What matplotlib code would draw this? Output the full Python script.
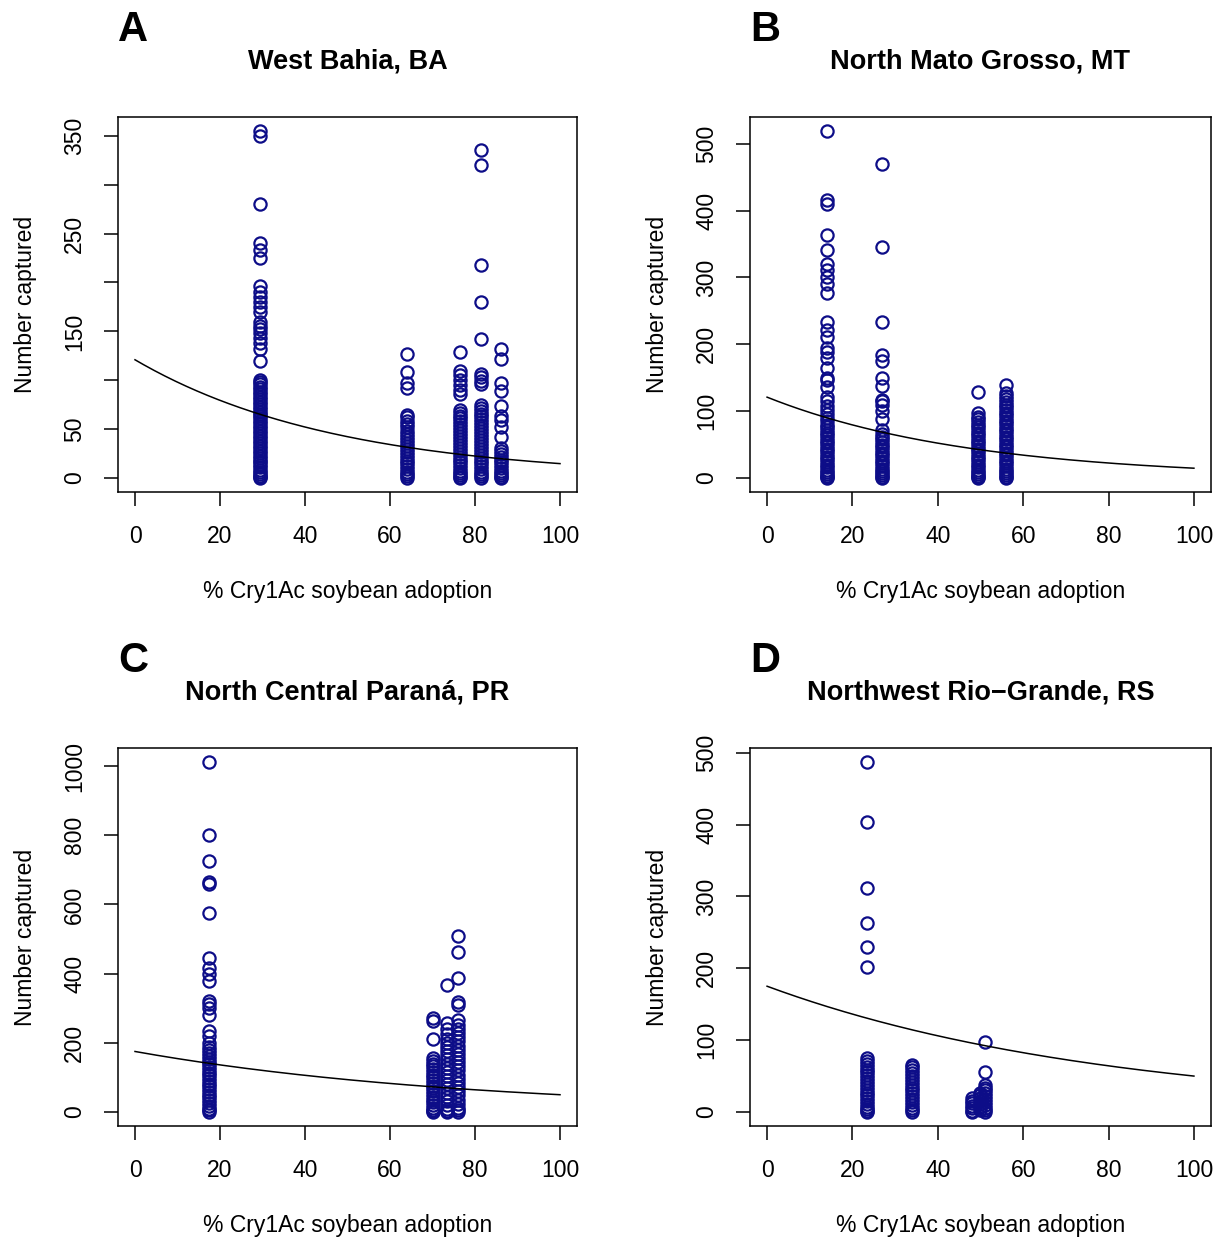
import numpy as np
import matplotlib
matplotlib.use('Agg')
import matplotlib.pyplot as plt

plt.rcParams['font.family'] = ['Liberation Sans', 'DejaVu Sans']

# Panel A - West Bahia
ba_adoption = [29.5, 64, 76.5, 81.5, 86]
ba_counts = [
    [355, 350, 280, 240, 233, 225, 196, 190, 185, 180, 175, 170, 160, 156, 152, 148, 143, 138, 132, 120,
     100, 98, 96, 93, 91, 88, 86, 83, 81, 78, 76, 73, 71, 68, 66, 63, 61, 58, 56, 53, 51, 48, 46, 43, 41,
     38, 36, 33, 31, 28, 26, 23, 21, 18, 16, 13, 11, 8, 6, 4, 2, 1, 0],
    [127, 108, 97, 92, 65, 62, 58, 55, 52, 48, 45, 42, 39, 36, 33, 30, 27, 24, 21, 18, 15, 12, 9, 6, 4, 2, 0],
    [129, 110, 105, 100, 95, 90, 86, 70, 67, 64, 61, 58, 55, 52, 49, 46, 43, 40, 37, 34, 31, 28, 25, 22,
     19, 16, 13, 10, 7, 5, 3, 1, 0],
    [335, 320, 218, 180, 142, 106, 103, 99, 96, 75, 72, 69, 66, 63, 60, 57, 54, 51, 48, 45, 42, 39, 36,
     33, 30, 27, 24, 21, 18, 15, 12, 9, 6, 4, 2, 0],
    [132, 122, 97, 89, 74, 64, 59, 52, 42, 31, 28, 25, 22, 19, 16, 13, 10, 7, 5, 3, 1, 0],
]
ba_curve = (121, 0.021)

# Panel B - North Mato Grosso
mt_adoption = [14, 27, 49.5, 56]
mt_counts = [
    [519, 415, 410, 364, 341, 320, 311, 300, 290, 276, 234, 222, 211, 195, 188, 180, 165, 150, 146, 136,
     121, 115, 108, 102, 96, 90, 85, 80, 76, 72, 68, 64, 60, 56, 52, 48, 44, 40, 36, 32, 28, 24, 20, 16,
     12, 9, 6, 3, 1, 0],
    [470, 346, 234, 184, 175, 150, 137, 117, 115, 110, 100, 88, 72, 66, 62, 58, 54, 50, 46, 42, 38, 34,
     30, 26, 22, 18, 14, 10, 7, 4, 2, 0],
    [128, 98, 92, 88, 84, 80, 76, 72, 68, 64, 60, 56, 52, 48, 44, 40, 36, 32, 28, 24, 20, 16, 12, 9, 6,
     3, 1, 0],
    [139, 127, 122, 118, 114, 110, 106, 102, 98, 94, 90, 86, 82, 78, 74, 70, 66, 62, 58, 54, 50, 46, 42,
     38, 34, 30, 26, 22, 18, 14, 10, 7, 4, 2, 0],
]
mt_curve = (121, 0.021)

# Panel C - North Central Parana
pr_adoption = [17.5, 70, 73.5, 76]
pr_counts = [
    [1012, 800, 726, 665, 658, 574, 446, 415, 400, 380, 320, 313, 300, 280, 235, 220, 200, 187, 178,
     170, 162, 154, 146, 138, 130, 122, 114, 106, 98, 90, 82, 74, 66, 58, 50, 42, 34, 26, 18, 10, 5, 0],
    [272, 262, 212, 155, 148, 140, 132, 124, 116, 108, 100, 92, 84, 76, 68, 60, 52, 44, 36, 28, 20, 12,
     6, 2, 0],
    [367, 256, 240, 225, 212, 200, 188, 176, 164, 152, 140, 128, 116, 104, 92, 80, 68, 56, 44, 32, 20,
     10, 4, 0],
    [510, 464, 388, 318, 309, 265, 252, 240, 228, 216, 204, 192, 180, 168, 156, 144, 132, 120, 108, 96,
     84, 72, 60, 48, 36, 24, 12, 5, 0],
]
pr_curve = (175, 0.01253)

# Panel D - Northwest Rio-Grande
rs_adoption = [23.5, 34, 48, 50, 51]
rs_counts = [
    [487, 403, 312, 263, 230, 202, 75, 71, 67, 63, 59, 55, 51, 47, 43, 39, 35, 31, 27, 23, 19, 15, 11,
     7, 4, 2, 0],
    [65, 62, 58, 54, 50, 46, 42, 38, 34, 30, 26, 22, 18, 14, 10, 6, 3, 0],
    [20, 16, 12, 8, 5, 2, 0],
    [27, 23, 19, 15, 11, 7, 3],
    [97, 55, 38, 34, 30, 26, 22, 18, 14, 10, 6, 3, 0],
]
rs_curve = (175, 0.01253)

panels = [
    ('A', 'West Bahia, BA', ba_adoption, ba_counts, ba_curve,
     [0, 50, 100, 150, 200, 250, 300, 350], ['0', '50', '', '150', '', '250', '', '350']),
    ('B', 'North Mato Grosso, MT', mt_adoption, mt_counts, mt_curve,
     [0, 100, 200, 300, 400, 500], None),
    ('C', 'North Central Paraná, PR', pr_adoption, pr_counts, pr_curve,
     [0, 200, 400, 600, 800, 1000], None),
    ('D', 'Northwest Rio\u2212Grande, RS', rs_adoption, rs_counts, rs_curve,
     [0, 100, 200, 300, 400, 500], None),
]

W, H = 1227, 1238
fig = plt.figure(figsize=(W / 100, H / 100), dpi=100)

boxes = [(118, 117, 577, 492), (750, 117, 1211, 492),
         (118, 748, 577, 1126), (750, 748, 1211, 1126)]

for (letter, title, xs, ys, (a, b), yt, ytl), (x0, y0, x1, y1) in zip(panels, boxes):
    ax = fig.add_axes([x0 / W, 1 - y1 / H, (x1 - x0) / W, (y1 - y0) / H])
    for x, col in zip(xs, ys):
        ax.plot([x] * len(col), col, 'o', mfc='none', mec='#0d0d88', ms=8.8, mew=1.6, ls='none')
    xx = np.linspace(0, 100, 200)
    ax.plot(xx, a * np.exp(-b * xx), color='black', lw=1.1)

    ymax = max(max(c) for c in ys)
    ax.set_xlim(-4, 104)
    ax.set_ylim(-0.04 * ymax, ymax * 1.04)
    ax.set_xticks([0, 20, 40, 60, 80, 100])
    ax.set_yticks(yt)
    if ytl is not None:
        ax.set_yticklabels(ytl)
    for lab in ax.get_yticklabels():
        lab.set_rotation(90)
        lab.set_va('center')
    ax.tick_params(axis='both', length=10, width=1.1, labelsize=16.5)
    ax.tick_params(axis='x', pad=14)
    ax.tick_params(axis='y', pad=13)
    for s in ax.spines.values():
        s.set_linewidth(1.1)

    ax.set_xlabel('% Cry1Ac soybean adoption', fontsize=16.5, labelpad=23)
    ax.set_ylabel('Number captured', fontsize=16.5, labelpad=19)
    ax.set_title(title, fontsize=19.5, fontweight='bold', pad=35)
    fig.text(x0 / W, 1 - (y0 - 76) / H, letter, fontsize=30, fontweight='bold', va='baseline', ha='left')

plt.savefig('out.png', dpi=100)
